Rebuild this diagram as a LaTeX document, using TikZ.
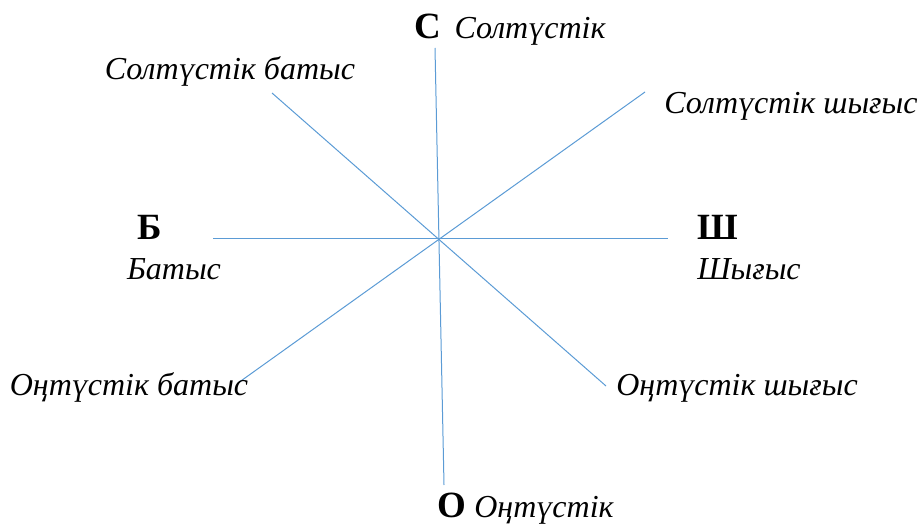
\documentclass[tikz,border=0pt]{standalone}
\usepackage{fontspec}
\setmainfont{Liberation Serif}
\definecolor{axis}{RGB}{91,155,213}
\begin{document}
\begin{tikzpicture}[x=1pt,y=-1pt,
  lbl/.style={anchor=base,inner sep=0pt,font=\fontsize{32}{36}\selectfont\itshape},
  dir/.style={anchor=base,inner sep=0pt,font=\fontsize{37}{40}\selectfont\bfseries},
  ray/.style={draw=axis,line width=1pt}]
\useasboundingbox (0,0) rectangle (920,529);
% end points
\coordinate (n) at (435,48);
\coordinate (s) at (444,485);
\coordinate (w) at (213,239);
\coordinate (e) at (668,239);
\coordinate (ne) at (645,92);
\coordinate (sw) at (238,383);
\coordinate (nw) at (272,93);
\coordinate (se) at (606,386);
\draw[ray] (n) -- (s);
\draw[ray] (w) -- (e);
\draw[ray] (ne) -- (sw);
\draw[ray] (nw) -- (se);
% labels
\node[dir] (C) at (428,39) {С};
\node[lbl] (Cl) at (530,39) {Солтүстік};
\node[lbl] (NW) at (230,80) {Солтүстік батыс};
\node[lbl] (NE) at (791,114) {Солтүстік шығыс};
\node[dir] (B) at (150,240) {Б};
\node[lbl] (Bl) at (174,279) {Батыс};
\node[dir] (Sh) at (718,240) {Ш};
\node[lbl] (Shl) at (749,279) {Шығыс};
\node[lbl] (SW) at (129,395) {Оңтүстік батыс};
\node[lbl] (SE) at (737,395) {Оңтүстік шығыс};
\node[dir] (O) at (452,517) {О};
\node[lbl] (Ol) at (544,517) {Оңтүстік};
\end{tikzpicture}
\end{document}
